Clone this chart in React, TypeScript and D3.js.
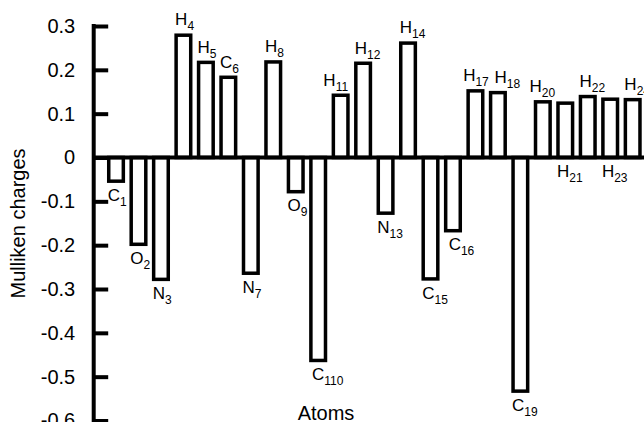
import React, { useEffect, useRef } from 'react';
import * as d3 from 'd3';

const atoms = ['C1', 'O2', 'N3', 'H4', 'H5', 'C6', 'N7', 'H8', 'O9', 'C110', 'H11', 'H12',
  'N13', 'H14', 'C15', 'C16', 'H17', 'H18', 'C19', 'H20', 'H21', 'H22', 'H23', 'H24'];
const charges = [-0.058, -0.202, -0.282, 0.283, 0.221, 0.187, -0.268, 0.222, -0.082, -0.467, 0.146, 0.219,
  -0.131, 0.265, -0.281, -0.171, 0.156, 0.152, -0.537, 0.131, 0.128, 0.143, 0.137, 0.136];
// positive bars whose label sits under the zero line
const labelBelow = ['H21', 'H23'];
const yTicks = [0.3, 0.2, 0.1, 0, -0.1, -0.2, -0.3, -0.4, -0.5, -0.6];
const yTitle = 'Mulliken charges';
const xTitle = 'Atoms';

const W = 644;
const H = 422;
const FONT = '"Liberation Sans", Arial, Helvetica, sans-serif';
// small horizontal nudges so crowded labels don't collide
const nudge: Record<string, number> = { H11: -9, H17: -4, H18: 5, H20: -5, C110: 2, C16: 4 };

export default function App() {
  const ref = useRef<SVGSVGElement>(null);

  useEffect(() => {
    const svg = d3.select(ref.current);
    svg.selectAll('*').remove();

    const sw = 3.5;
    const y = d3.scaleLinear().domain([-0.6, 0.3]).range([420.5, 26]);
    const x = d3.scaleBand<string>()
      .domain(atoms)
      .range([104.8, 643.9])
      .paddingInner(0.35)
      .paddingOuter(0.175);

    const data = atoms.map((a, i) => ({ atom: a, v: charges[i] }));
    const y0 = y(0);

    // bars
    svg.append('g')
      .selectAll('rect')
      .data(data)
      .enter()
      .append('rect')
      .attr('x', d => x(d.atom)!)
      .attr('width', x.bandwidth())
      .attr('y', d => d.v >= 0 ? y(d.v) + sw / 2 : y0)
      .attr('height', d => d.v >= 0 ? y0 - y(d.v) - sw / 2 : y(d.v) - sw / 2 - y0)
      .attr('fill', '#fff')
      .attr('stroke', '#000')
      .attr('stroke-width', sw);

    // zero line
    svg.append('line')
      .attr('x1', 93)
      .attr('x2', W)
      .attr('y1', y0)
      .attr('y2', y0)
      .attr('stroke', '#000')
      .attr('stroke-width', 4);

    // y axis
    const axis = svg.append('g')
      .attr('transform', 'translate(93.7,0)')
      .call(d3.axisLeft(y)
        .tickValues(yTicks)
        .tickSizeInner(-14.5)
        .tickSizeOuter(0)
        .tickPadding(18.5)
        .tickFormat(d => String(d)));
    axis.select('.domain').remove();
    axis.selectAll('.tick line').attr('stroke', '#000').attr('stroke-width', 4);
    axis.selectAll('.tick text')
      .attr('fill', '#000')
      .attr('font-family', FONT)
      .attr('font-size', 20);
    axis.append('line')
      .attr('x1', 0).attr('x2', 0)
      .attr('y1', y(0.3) - 2)
      .attr('y2', H + 2)
      .attr('stroke', '#000')
      .attr('stroke-width', 4);

    // atom labels
    const lab = svg.append('g')
      .attr('font-family', FONT)
      .attr('fill', '#000')
      .selectAll('text')
      .data(data)
      .enter()
      .append('text')
      .attr('x', d => x(d.atom)! - 1 + (nudge[d.atom] || 0))
      .attr('y', d => {
        if (labelBelow.includes(d.atom)) return y0 + 19;
        return d.v >= 0 ? y(d.v) - 8 : y(d.v) + 18;
      })
      .attr('font-size', 17);
    lab.append('tspan').text(d => d.atom.charAt(0));
    lab.append('tspan')
      .attr('font-size', 12)
      .attr('dy', 5)
      .text(d => d.atom.slice(1));

    // axis titles
    svg.append('text')
      .attr('transform', 'translate(25,223.5) rotate(-90)')
      .attr('text-anchor', 'middle')
      .attr('font-family', FONT)
      .attr('font-size', 20)
      .text(yTitle);

    svg.append('text')
      .attr('x', 326)
      .attr('y', 420)
      .attr('text-anchor', 'middle')
      .attr('font-family', FONT)
      .attr('font-size', 20)
      .text(xTitle);
  }, []);

  return (
    <svg
      ref={ref}
      width={W}
      height={H}
      style={{ position: 'absolute', left: 0, top: 0, background: '#fff' }}
    />
  );
}
